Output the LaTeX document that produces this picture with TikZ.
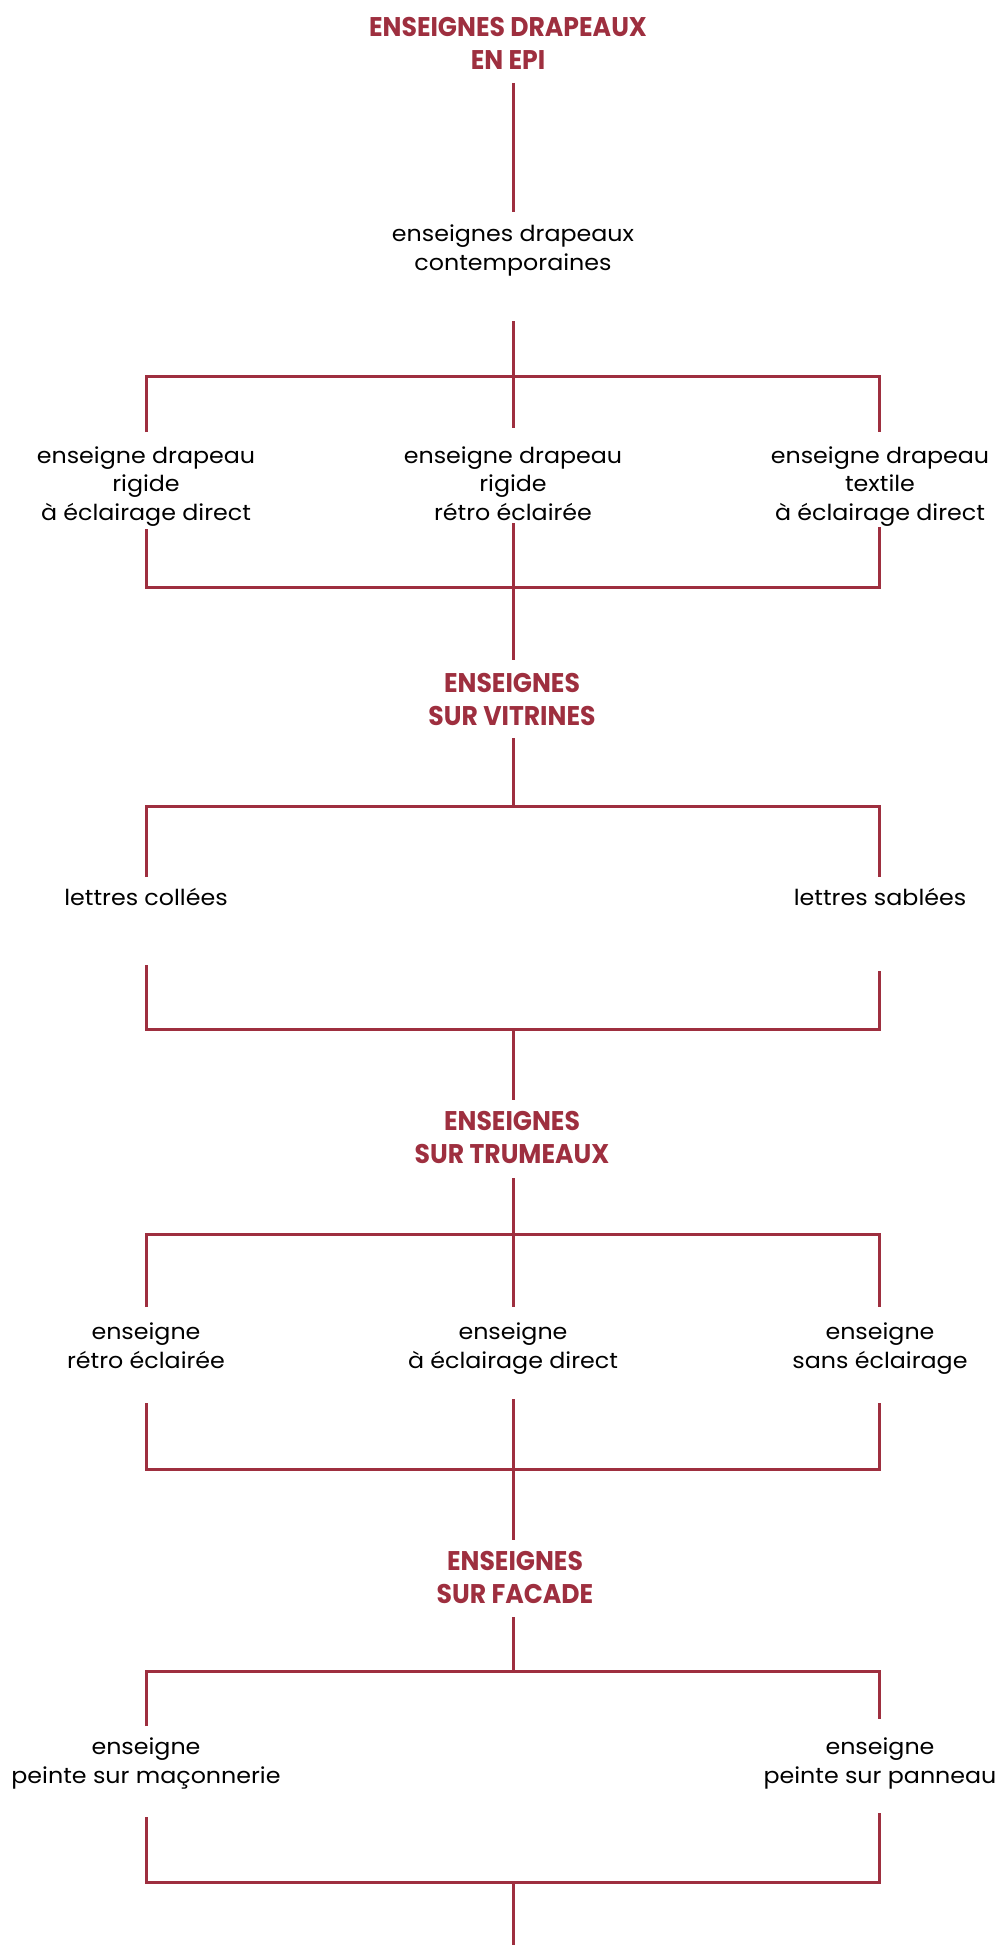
\documentclass[tikz,border=0pt]{standalone}
\usepackage{fontspec}
\setmainfont{Poppins}
\newfontfamily\titlefont{Poppins}[FakeStretch=0.93]
\newfontfamily\bodyfont{Poppins}[FakeStretch=1.08]
\definecolor{wine}{RGB}{158,47,63}
\tikzset{
  ttl/.style={anchor=base, align=center, inner sep=0pt, text=wine,
    font=\titlefont\bfseries\fontsize{27}{33}\selectfont},
  lbl/.style={anchor=base, align=center, inner sep=0pt, text=black,
    font=\bodyfont\fontsize{22}{28.5}\selectfont},
  ln/.style={draw=wine, line width=3pt, line join=miter}
}
\begin{document}
\begin{tikzpicture}[x=1pt,y=-1pt]
\useasboundingbox (0,0) rectangle (1002,1945);
% ---- texts (anchor = baseline of last line)
\node[ttl] (t1) at (508,70) {ENSEIGNES DRAPEAUX\\EN EPI};
\node[lbl] (s1) at (513,270) {enseignes drapeaux\\contemporaines};
\node[lbl] (a1) at (146,520) {enseigne drapeau\\rigide\\à éclairage direct};
\node[lbl] (a2) at (513,520) {enseigne drapeau\\rigide\\rétro éclairée};
\node[lbl] (a3) at (880,520) {enseigne drapeau\\textile\\à éclairage direct};
\node[ttl] (t2) at (512,725) {ENSEIGNES\\SUR VITRINES};
\node[lbl] (b1) at (146,905) {lettres collées};
\node[lbl] (b2) at (880,905) {lettres sablées};
\node[ttl] (t3) at (512,1163) {ENSEIGNES\\SUR TRUMEAUX};
\node[lbl] (c1) at (146,1368) {enseigne\\rétro éclairée};
\node[lbl] (c2) at (513,1368) {enseigne\\à éclairage direct};
\node[lbl] (c3) at (880,1368) {enseigne\\sans éclairage};
\node[ttl] (t4) at (515,1603) {ENSEIGNES\\SUR FACADE};
\node[lbl] (d1) at (146,1783) {enseigne\\peinte sur maçonnerie};
\node[lbl] (d2) at (880,1783) {enseigne\\peinte sur panneau};
% ---- junction coordinates
\coordinate (t1b) at (513,83);   \coordinate (s1t) at (513,212);
\coordinate (s1b) at (513,321);
\coordinate (j1l) at (146,376);  \coordinate (j1c) at (513,376);  \coordinate (j1r) at (879,376);
\coordinate (a1t) at (146,432);  \coordinate (a2t) at (513,428);  \coordinate (a3t) at (879,432);
\coordinate (a1b) at (146,529);  \coordinate (a2b) at (513,523);  \coordinate (a3b) at (879,527);
\coordinate (k1l) at (146,587);  \coordinate (k1c) at (513,587);  \coordinate (k1r) at (879,587);
\coordinate (t2t) at (513,660);  \coordinate (t2b) at (513,738);
\coordinate (j2l) at (146,806);  \coordinate (j2c) at (513,806);  \coordinate (j2r) at (879,806);
\coordinate (b1t) at (146,877);  \coordinate (b2t) at (879,877);
\coordinate (b1b) at (146,965);  \coordinate (b2b) at (879,971);
\coordinate (k2l) at (146,1029); \coordinate (k2c) at (513,1029); \coordinate (k2r) at (879,1029);
\coordinate (t3t) at (513,1100); \coordinate (t3b) at (513,1178);
\coordinate (j3l) at (146,1234); \coordinate (j3c) at (513,1234); \coordinate (j3r) at (879,1234);
\coordinate (c1t) at (146,1307); \coordinate (c2t) at (513,1307); \coordinate (c3t) at (879,1307);
\coordinate (c1b) at (146,1403); \coordinate (c2b) at (513,1399); \coordinate (c3b) at (879,1403);
\coordinate (k3l) at (146,1469); \coordinate (k3c) at (513,1469); \coordinate (k3r) at (879,1469);
\coordinate (t4t) at (513,1540); \coordinate (t4b) at (513,1617);
\coordinate (j4l) at (146,1671); \coordinate (j4c) at (513,1671); \coordinate (j4r) at (879,1671);
\coordinate (d1t) at (146,1726); \coordinate (d2t) at (879,1719);
\coordinate (d1b) at (146,1817); \coordinate (d2b) at (879,1813);
\coordinate (k4l) at (146,1882); \coordinate (k4c) at (513,1882); \coordinate (k4r) at (879,1882);
\coordinate (end) at (513,1945);
% ---- connectors
\draw[ln] (t1b) -- (s1t);
\draw[ln] (s1b) -- (j1c);
\draw[ln] (a1t) -- (j1l) -- (j1r) -- (a3t);
\draw[ln] (j1c) -- (a2t);
\draw[ln] (a1b) -- (k1l) -- (k1r) -- (a3b);
\draw[ln] (a2b) -- (t2t);
\draw[ln] (t2b) -- (j2c);
\draw[ln] (b1t) -- (j2l) -- (j2r) -- (b2t);
\draw[ln] (b1b) -- (k2l) -- (k2r) -- (b2b);
\draw[ln] (k2c) -- (t3t);
\draw[ln] (t3b) -- (j3c);
\draw[ln] (c1t) -- (j3l) -- (j3r) -- (c3t);
\draw[ln] (j3c) -- (c2t);
\draw[ln] (c1b) -- (k3l) -- (k3r) -- (c3b);
\draw[ln] (c2b) -- (t4t);
\draw[ln] (t4b) -- (j4c);
\draw[ln] (d1t) -- (j4l) -- (j4r) -- (d2t);
\draw[ln] (d1b) -- (k4l) -- (k4r) -- (d2b);
\draw[ln] (k4c) -- (end);
\end{tikzpicture}
\end{document}
